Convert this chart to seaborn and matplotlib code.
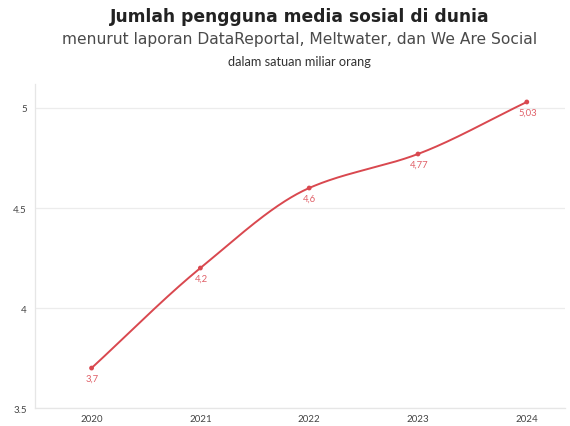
import numpy as np
import pandas as pd
import matplotlib
matplotlib.use("Agg")
import matplotlib.pyplot as plt
import seaborn as sns

years = [2020, 2021, 2022, 2023, 2024]
users = [3.7, 4.2, 4.6, 4.77, 5.03]
value_labels = ["3,7", "4,2", "4,6", "4,77", "5,03"]
y_ticks = [3.5, 4, 4.5, 5]
y_tick_labels = ["3.5", "4", "4.5", "5"]

title = "Jumlah pengguna media sosial di dunia"
subtitle = "menurut laporan DataReportal, Meltwater, dan We Are Social"
unit_note = "dalam satuan miliar orang"

LINE = "#d9484f"
LABEL = "#e06068"


def pchip(x, y, xs):
    """Monotone cubic (Fritsch-Carlson) curve through the data points."""
    x = np.asarray(x, float)
    y = np.asarray(y, float)
    h = np.diff(x)
    d = np.diff(y) / h
    m = np.zeros_like(y)
    for k in range(1, len(x) - 1):
        if d[k - 1] * d[k] > 0:
            w1 = 2 * h[k] + h[k - 1]
            w2 = h[k] + 2 * h[k - 1]
            m[k] = (w1 + w2) / (w1 / d[k - 1] + w2 / d[k])
    m[0] = d[0]
    m[-1] = d[-1]
    idx = np.clip(np.searchsorted(x, xs) - 1, 0, len(x) - 2)
    t = (xs - x[idx]) / h[idx]
    h00 = 2 * t**3 - 3 * t**2 + 1
    h10 = t**3 - 2 * t**2 + t
    h01 = -2 * t**3 + 3 * t**2
    h11 = t**3 - t**2
    return h00 * y[idx] + h10 * h[idx] * m[idx] + h01 * y[idx + 1] + h11 * h[idx] * m[idx + 1]


sns.set_theme(style="white")
plt.rcParams["font.family"] = ["Lato", "DejaVu Sans"]

fig = plt.figure(figsize=(5.7, 4.27), dpi=100)
ax = fig.add_axes([0.0614, 0.042, 0.9296, 0.759])

df = pd.DataFrame({"year": years, "users": users})
xs = np.linspace(years[0], years[-1], 300)
curve = pd.DataFrame({"year": xs, "users": pchip(years, users, xs)})

sns.lineplot(data=curve, x="year", y="users", ax=ax, color=LINE, linewidth=1.4)
sns.scatterplot(data=df, x="year", y="users", ax=ax, color=LINE, s=12,
                edgecolor="none", zorder=3)

for xv, yv, lab in zip(years, users, value_labels):
    ax.annotate(lab, (xv, yv), xytext=(0.5, -4), textcoords="offset points",
                ha="center", va="top", fontsize=6.8, color=LABEL)

ax.set_xlim(2019.48, 2024.35)
ax.set_ylim(3.5, 5.12)
ax.set_xticks(years)
ax.set_xticklabels([str(y) for y in years])
ax.set_yticks(y_ticks)
ax.set_yticklabels(y_tick_labels)
ax.tick_params(axis="both", length=0, labelsize=7, colors="#444444")
ax.tick_params(axis="x", pad=4)
ax.tick_params(axis="y", pad=6)
ax.set_xlabel("")
ax.set_ylabel("")
ax.grid(axis="y", color="#ececec", linewidth=0.9)
ax.set_axisbelow(True)
for side in ["top", "right"]:
    ax.spines[side].set_visible(False)
for side in ["left", "bottom"]:
    ax.spines[side].set_color("#e6e6e6")
    ax.spines[side].set_linewidth(0.9)

fig.text(0.526, 0.96, title, ha="center", va="center", fontsize=12.3,
         fontweight="bold", color="#222222", family=["DejaVu Sans"])
fig.text(0.526, 0.907, subtitle, ha="center", va="center", fontsize=11.2,
         fontweight="normal", color="#4a4a4a", family=["DejaVu Sans"])
fig.text(0.526, 0.855, unit_note, ha="center", va="center", fontsize=9.2,
         color="#333333")

fig.savefig("out.png", dpi=100, facecolor="white")
